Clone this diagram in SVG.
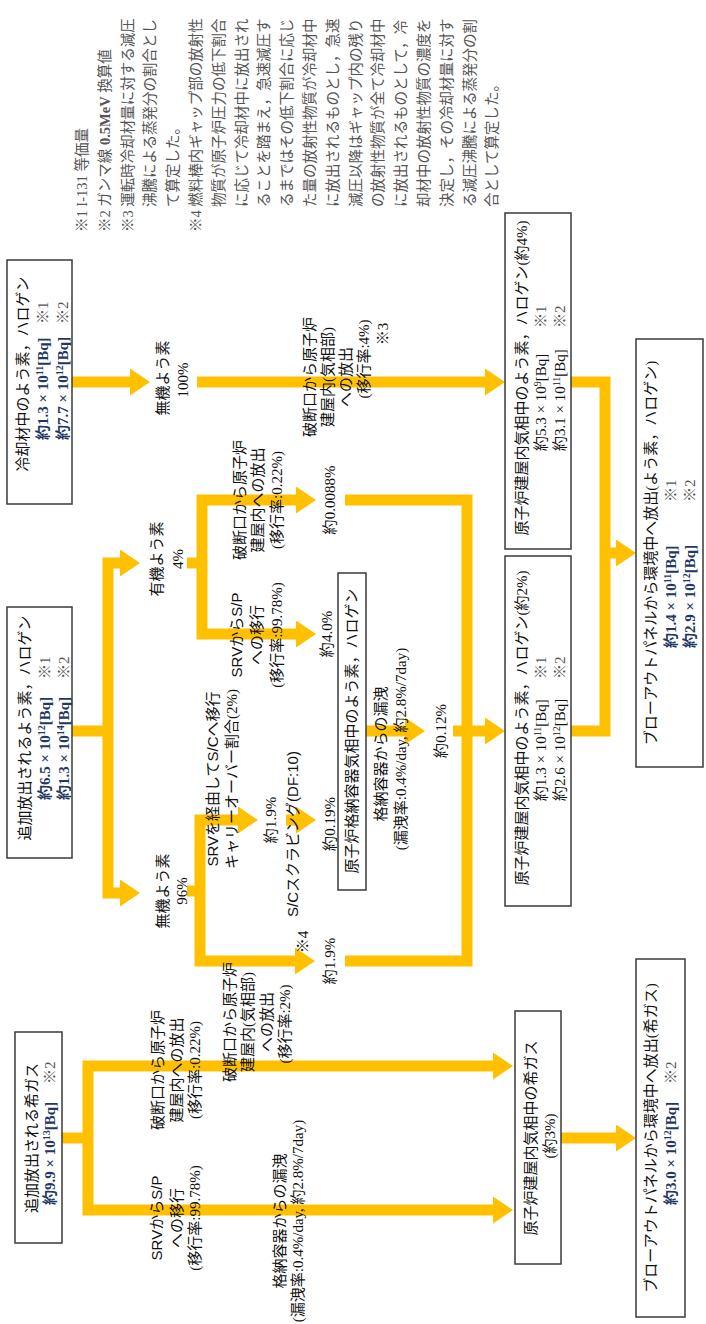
<svg xmlns="http://www.w3.org/2000/svg" width="706" height="1324" viewBox="0 0 706 1324">
<defs>
<style>
.bx{fill:#fff;stroke:#3a3a3a;stroke-width:1.5}
.c{fill:none;stroke:#FFC000;stroke-width:11;stroke-linejoin:miter;stroke-linecap:butt}
.a{marker-end:url(#ah)}
.a2{marker-start:url(#ah);marker-end:url(#ah)}
text{font-family:"Liberation Serif","Noto Sans CJK JP",serif;font-size:15px;fill:#111}
.m{text-anchor:middle}
.b{font-weight:bold;fill:#1F3864}
.sp{font-size:10px}
.r{fill:#555}
.n{font-size:14.5px;fill:#555}
.s{font-family:"Liberation Sans","Noto Sans CJK JP",sans-serif}
</style>
<marker id="ah" markerUnits="userSpaceOnUse" markerWidth="20" markerHeight="27" viewBox="0 0 20 27" refX="0" refY="13.5" orient="auto-start-reverse"><path d="M0,0L20,13.5L0,27Z" fill="#FFC000"/></marker>
</defs>
<rect width="706" height="1324" fill="#fff"/>
<g transform="translate(0,1324) rotate(-90)">
<g id="connectors">
<path class="c a" d="M942,72V130"/>
<path class="c a" d="M942,197V485"/>
<path class="c" d="M593,72V108"/>
<path class="c a2" d="M761,120V108H431V120"/>
<path class="c" d="M761,187V202"/>
<path class="c a2" d="M824,296V202H690V296"/>
<path class="c" d="M433,187V200"/>
<path class="c a2" d="M504,238V200H363V295"/>
<path class="c a" d="M504,286V296"/>
<path class="c" d="M824,345V467H363V345"/>
<path class="c a" d="M593,366V405"/>
<path class="c a" d="M593,453V485"/>
<path class="c" d="M942,571V605H593V571"/>
<path class="c a" d="M771,605V616"/>
<path class="c" d="M186,62V88"/>
<path class="c a2" d="M258,493V88H114V493"/>
<path class="c a" d="M186,561V616"/>
</g>
<g id="notes">
<text class="n" x="1092" y="87">※1 I-131 等価量</text>
<text class="n" x="1092" y="109.8">※2 ガンマ線 <tspan font-weight="bold">0.5MeV</tspan> 換算値</text>
<text class="n" x="1092" y="132.6">※3 運転時冷却材量に対する減圧</text>
<text class="n" x="1117" y="155.4">沸騰による蒸発分の割合とし</text>
<text class="n" x="1117" y="178.2">て算定した。</text>
<text class="n" x="1092" y="201">※4 燃料棒内ギャップ部の放射性</text>
<text class="n" x="1117" y="223.8">物質が原子炉圧力の低下割合</text>
<text class="n" x="1117" y="246.6">に応じて冷却材中に放出され</text>
<text class="n" x="1117" y="269.4">ることを踏まえ，急速減圧す</text>
<text class="n" x="1117" y="292.2">るまではその低下割合に応じ</text>
<text class="n" x="1117" y="315">た量の放射性物質が冷却材中</text>
<text class="n" x="1117" y="337.8">に放出されるものとし，急速</text>
<text class="n" x="1117" y="360.6">減圧以降はギャップ内の残り</text>
<text class="n" x="1117" y="383.4">の放射性物質が全て冷却材中</text>
<text class="n" x="1117" y="406.2">に放出されるものとして，冷</text>
<text class="n" x="1117" y="429">却材中の放射性物質の濃度を</text>
<text class="n" x="1117" y="451.8">決定し，その冷却材量に対す</text>
<text class="n" x="1117" y="474.6">る減圧沸騰による蒸発分の割</text>
<text class="n" x="1117" y="497.4">合として算定した。</text>
</g>
<g id="n-coolant">
<rect class="bx" x="820" y="7" width="244" height="65"/>
<text class="m" x="950" y="28">冷却材中のよう素，ハロゲン</text>
<text x="884" y="48" class="b">約1.3 × 10<tspan class="sp" dy="-5">11</tspan><tspan dy="5">[Bq]</tspan></text>
<text x="1000" y="48" class="r">※1</text>
<text x="884" y="68" class="b">約7.7 × 10<tspan class="sp" dy="-5">12</tspan><tspan dy="5">[Bq]</tspan></text>
<text x="1000" y="68" class="r">※2</text>
</g>
<g id="n-add-iodine">
<rect class="bx" x="466" y="7" width="251" height="65"/>
<text class="m" x="596" y="30">追加放出されるよう素，ハロゲン</text>
<text x="524" y="50" class="b">約6.5 × 10<tspan class="sp" dy="-5">12</tspan><tspan dy="5">[Bq]</tspan></text>
<text x="645" y="50" class="r">※1</text>
<text x="524" y="69" class="b">約1.3 × 10<tspan class="sp" dy="-5">14</tspan><tspan dy="5">[Bq]</tspan></text>
<text x="645" y="69" class="r">※2</text>
</g>
<g id="n-add-noble">
<rect class="bx" x="81" y="15" width="211" height="47"/>
<text class="m" x="186" y="37">追加放出される希ガス</text>
<text x="119" y="55" class="b">約9.9 × 10<tspan class="sp" dy="-5">13</tspan><tspan dy="5">[Bq]</tspan></text>
<text x="240" y="55" class="r">※2</text>
</g>
<g id="n-rb-iodine-4">
<rect class="bx" x="775" y="505" width="336" height="66"/>
<text class="m" x="946" y="527">原子炉建屋内気相中のよう素，ハロゲン(約4%)</text>
<text x="873" y="546">約5.3 × 10<tspan class="sp" dy="-5">9</tspan><tspan dy="5">[Bq]</tspan></text>
<text x="996" y="546" class="r">※1</text>
<text x="873" y="565">約3.1 × 10<tspan class="sp" dy="-5">11</tspan><tspan dy="5">[Bq]</tspan></text>
<text x="996" y="565" class="r">※2</text>
</g>
<g id="n-rb-iodine-2">
<rect class="bx" x="418" y="505" width="350" height="66"/>
<text class="m" x="596" y="527">原子炉建屋内気相中のよう素，ハロゲン(約2%)</text>
<text x="523" y="546">約1.3 × 10<tspan class="sp" dy="-5">11</tspan><tspan dy="5">[Bq]</tspan></text>
<text x="645" y="546" class="r">※1</text>
<text x="523" y="565">約2.6 × 10<tspan class="sp" dy="-5">12</tspan><tspan dy="5">[Bq]</tspan></text>
<text x="645" y="565" class="r">※2</text>
</g>
<g id="n-bop-iodine">
<rect class="bx" x="557" y="636" width="428" height="67"/>
<text class="m" x="771" y="656">ブローアウトパネルから環境中へ放出(よう素，ハロゲン)</text>
<text x="676" y="676" class="b">約1.4 × 10<tspan class="sp" dy="-5">11</tspan><tspan dy="5">[Bq]</tspan></text>
<text x="822" y="676" class="r">※1</text>
<text x="676" y="695" class="b">約2.9 × 10<tspan class="sp" dy="-5">12</tspan><tspan dy="5">[Bq]</tspan></text>
<text x="822" y="695" class="r">※2</text>
</g>
<g id="n-rb-noble">
<rect class="bx" x="60" y="515" width="253" height="46"/>
<text class="m" x="186" y="536">原子炉建屋内気相中の希ガス</text>
<text class="m" x="188" y="555">(約3%)</text>
</g>
<g id="n-bop-noble">
<rect class="bx" x="7" y="636" width="358" height="49"/>
<text class="m" x="186" y="656">ブローアウトパネルから環境中へ放出(希ガス)</text>
<text x="119" y="676" class="b">約3.0 × 10<tspan class="sp" dy="-5">12</tspan><tspan dy="5">[Bq]</tspan></text>
<text x="240" y="676" class="r">※2</text>
</g>
<g id="n-pcv">
<rect class="bx" x="434" y="338" width="317" height="28"/>
<text class="m" x="593" y="357">原子炉格納容器気相中のよう素，ハロゲン</text>
</g>
<g id="labels">
<text class="m" x="946" y="168">無機よう素</text>
<text class="m" x="944" y="188">100%</text>
<text class="m" x="765" y="162">有機よう素</text>
<text class="m" x="765" y="183">4%</text>
<text class="m" x="433" y="168">無機よう素</text>
<text class="m" x="433" y="187">96%</text>
<text class="m" x="824" y="245">破断口から原子炉</text>
<text class="m" x="824" y="263">建屋内への放出</text>
<text class="m" x="824" y="282">(移行率:0.22%)</text>
<text class="m" x="689" y="242"><tspan class="s">SRV</tspan>から<tspan class="s">S/P</tspan></text>
<text class="m" x="689" y="262">への移行</text>
<text class="m" x="689" y="282">(移行率:99.78%)</text>
<text class="m" x="824" y="335">約0.0088%</text>
<text class="m" x="690" y="332">約4.0%</text>
<text class="m" x="947" y="315">破断口から原子炉</text>
<text class="m" x="947" y="333">建屋内(気相部)</text>
<text class="m" x="947" y="351">への放出</text>
<text class="m" x="965" y="369">(移行率:4%)</text>
<text class="m" x="990" y="388">※3</text>
<text class="m" x="302" y="235">破断口から原子炉</text>
<text class="m" x="302" y="253">建屋内(気相部)</text>
<text class="m" x="302" y="272">への放出</text>
<text class="m" x="300" y="290">(移行率:2%)</text>
<text class="m" x="382" y="308">※4</text>
<text class="m" x="545" y="218"><tspan class="s">SRV</tspan>を経由して<tspan class="s">S/C</tspan>へ移行</text>
<text class="m" x="545" y="237">キャリーオーバー割合(2%)</text>
<text class="m" x="504" y="276">約1.9%</text>
<text class="m" x="490" y="298"><tspan class="s">S/C</tspan>スクラビング<tspan class="s">(DF:10)</tspan></text>
<text class="m" x="500" y="335">約0.19%</text>
<text class="m" x="363" y="335">約1.9%</text>
<text class="m" x="570" y="386">格納容器からの漏洩</text>
<text class="m" x="575" y="406">(漏洩率:0.4%/day, 約2.8%/7day)</text>
<text class="m" x="593" y="446">約0.12%</text>
<text class="m" x="254" y="163">破断口から原子炉</text>
<text class="m" x="254" y="182">建屋内への放出</text>
<text class="m" x="254" y="200">(移行率:0.22%)</text>
<text class="m" x="106" y="162"><tspan class="s">SRV</tspan>から<tspan class="s">S/P</tspan></text>
<text class="m" x="106" y="182">への移行</text>
<text class="m" x="106" y="200">(移行率:99.78%)</text>
<text class="m" x="103" y="285">格納容器からの漏洩</text>
<text class="m" x="103" y="303">(漏洩率:0.4%/day, 約2.8%/7day)</text>
</g>
</g>
</svg>
